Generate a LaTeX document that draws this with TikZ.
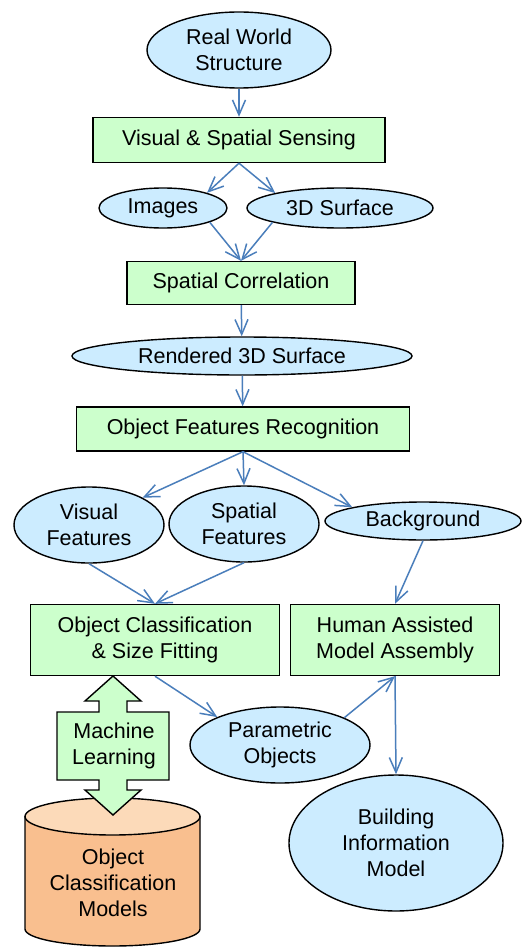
\documentclass[tikz,border=0pt]{standalone}
\usepackage{fontspec}
\setmainfont{Liberation Sans}
\usetikzlibrary{shapes.geometric,arrows.meta}
\definecolor{dataBlue}{HTML}{CCECFF}
\definecolor{stepGreen}{HTML}{CCFFCC}
\definecolor{flowBlue}{HTML}{4A7EBB}
\definecolor{dbSide}{HTML}{F9BF8F}
\definecolor{dbTop}{HTML}{FCDAB9}
\tikzset{
  data/.style={ellipse,draw,fill=dataBlue,line width=1.4pt,inner sep=0pt,align=center},
  stepbox/.style={rectangle,draw,fill=stepGreen,line width=1.4pt,inner sep=0pt,align=center},
  flow/.style={draw=flowBlue,line width=1.5pt,-{Straight Barb[length=15pt,width=13pt]}},
}
\begin{document}
\begin{tikzpicture}[x=1pt,y=-1pt,font=\fontsize{21.5}{26}\selectfont]
\useasboundingbox[fill=white] (0,0) rectangle (532,947);
% model database
\draw[fill=dbSide,line width=1.4pt] (25,816.5) -- (25,929) arc[start angle=180,end angle=0,x radius=87.5,y radius=17] -- (200,816.5) -- cycle;
\draw[fill=dbTop,line width=1.4pt] (112.5,816.5) ellipse[x radius=87.5,y radius=18.5];
\node (ocm) at (113,883) [align=center] {Object\\Classification\\Models};
% learning arrow
\draw[fill=stepGreen,line width=1.4pt] (113,676) -- (141,701) -- (127,701) -- (127,712) -- (169,712) -- (169,780)
  -- (127,780) -- (127,790) -- (141,790) -- (113,815) -- (85,790) -- (99,790) -- (99,780) -- (57,780)
  -- (57,712) -- (99,712) -- (99,701) -- (85,701) -- cycle;
\node (ml) at (114,746) [align=center] {Machine\\Learning};
% steps and data
\node[data,minimum width=184pt,minimum height=76pt] (rws) at (239,50) {Real World\\Structure};
\node[stepbox,minimum width=292pt,minimum height=45pt] (vss) at (239,140) {Visual \& Spatial Sensing};
\node[data,minimum width=128pt,minimum height=40pt] (img) at (163,208) {Images};
\node[data,minimum width=186pt,minimum height=40pt] (srf) at (340,208) {3D Surface};
\node[stepbox,minimum width=228pt,minimum height=43pt] (sc) at (241,283) {Spatial Correlation};
\node[data,minimum width=340pt,minimum height=38pt] (rsrf) at (242,356) {Rendered 3D Surface};
\node[stepbox,minimum width=333pt,minimum height=44pt] (ofr) at (243,429) {Object Features Recognition};
\node[data,minimum width=150pt,minimum height=76pt] (vf) at (89,525) {Visual\\Features};
\node[data,minimum width=150pt,minimum height=76pt] (sf) at (244,524) {Spatial\\Features};
\node[data,minimum width=196pt,minimum height=38pt] (bg) at (423,521) {Background};
\node[stepbox,minimum width=249pt,minimum height=71pt] (ocs) at (155,640) {Object Classification\\\& Size Fitting};
\node[stepbox,minimum width=209pt,minimum height=71pt] (hama) at (395,640) {Human Assisted\\Model Assembly};
\node[data,minimum width=180pt,minimum height=76pt] (po) at (280,745) {Parametric\\Objects};
\node[data,minimum width=214pt,minimum height=136pt] (bim) at (396,843) {Building\\Information\\Model};
% flows
\draw[flow] (rws) -- (vss);
\draw[flow] (vss.south) -- (img.19);
\draw[flow] (vss.south) -- (srf.167);
\draw[flow] (img.-17) -- (sc.north);
\draw[flow] (srf.192) -- (sc.north);
\draw[flow] (sc) -- (rsrf);
\draw[flow] (rsrf) -- (ofr);
\draw[flow] (ofr.south) -- (vf.27);
\draw[flow] (ofr.south) -- (sf.north);
\draw[flow] (ofr.south) -- (bg.169);
\draw[flow] (vf.south) -- (ocs.north);
\draw[flow] (sf.south) -- (ocs.north);
\draw[flow] (bg.south) -- (hama.north);
\draw[flow] (ocs.south) -- (po.156);
\draw[flow] (po.23) -- (hama.south);
\draw[flow] (hama.south) -- (bim.north);
\end{tikzpicture}
\end{document}
